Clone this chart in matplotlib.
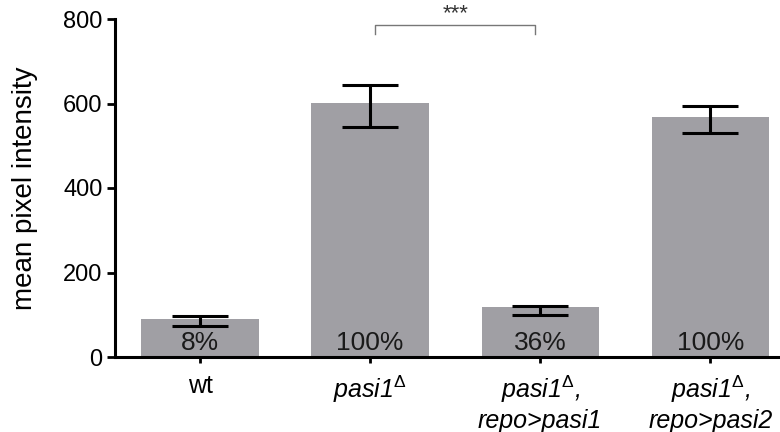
import matplotlib
matplotlib.use("Agg")
import matplotlib.pyplot as plt
import numpy as np

# data
groups = ["wt",
          "pasi1$^{\\Delta}$",
          "pasi1$^{\\Delta}$,\nrepo>pasi1",
          "pasi1$^{\\Delta}$,\nrepo>pasi2"]
means = [90, 601, 118, 568]
err_low = [74, 544, 99, 530]
err_high = [97, 644, 121, 594]
percent = ["8%", "100%", "36%", "100%"]

plt.rcParams['font.family'] = ['Liberation Sans', 'DejaVu Sans']
plt.rcParams['mathtext.fontset'] = 'custom'
plt.rcParams['mathtext.rm'] = 'Liberation Sans'
plt.rcParams['mathtext.it'] = 'Liberation Sans:italic'

fig = plt.figure(figsize=(7.8, 4.32), dpi=100)
ax = fig.add_axes([115/780, 1 - 357/432, 1 - 115/780, (357 - 19)/432])

x = np.arange(len(groups))
means = np.array(means)
yerr = [means - np.array(err_low), np.array(err_high) - means]

ax.bar(x, means, width=0.69, color="#a09fa4", zorder=1)
ax.errorbar(x, means, yerr=yerr, fmt="none", ecolor="black",
            elinewidth=2.2, capsize=20, capthick=2.2, zorder=2)

for xi, p in zip(x, percent):
    ax.text(xi, 4, p, ha="center", va="bottom", fontsize=19, color="#1a1a1a")

ax.set_xlim(-0.5, 3.41)
ax.set_ylim(0, 800)
ax.set_yticks([0, 200, 400, 600, 800])
ax.tick_params(axis="y", labelsize=17, width=2, length=6, pad=3)
ax.set_xticks(x)
ax.set_xticklabels(groups, fontsize=18)
ax.tick_params(axis="x", width=2, length=4, pad=8)
for lbl in ax.get_xticklabels()[1:]:
    lbl.set_fontstyle("italic")

ax.set_ylabel("mean pixel intensity", fontsize=20, labelpad=18)

for side in ["top", "right"]:
    ax.spines[side].set_visible(False)
for side in ["left", "bottom"]:
    ax.spines[side].set_linewidth(2.2)

# significance bracket between bar 2 and 3
yb = 800 - (25 - 19) / 338 * 800
ydrop = 800 - (34 - 19) / 338 * 800
ax.plot([1.03, 1.03, 1.97, 1.97], [ydrop, yb, yb, ydrop], color="#777777",
        lw=1.0, clip_on=False)
ax.text(1.5, yb + 2, "***", ha="center", va="bottom", fontsize=16, color="#333333")

fig.savefig("out.png", dpi=100)
